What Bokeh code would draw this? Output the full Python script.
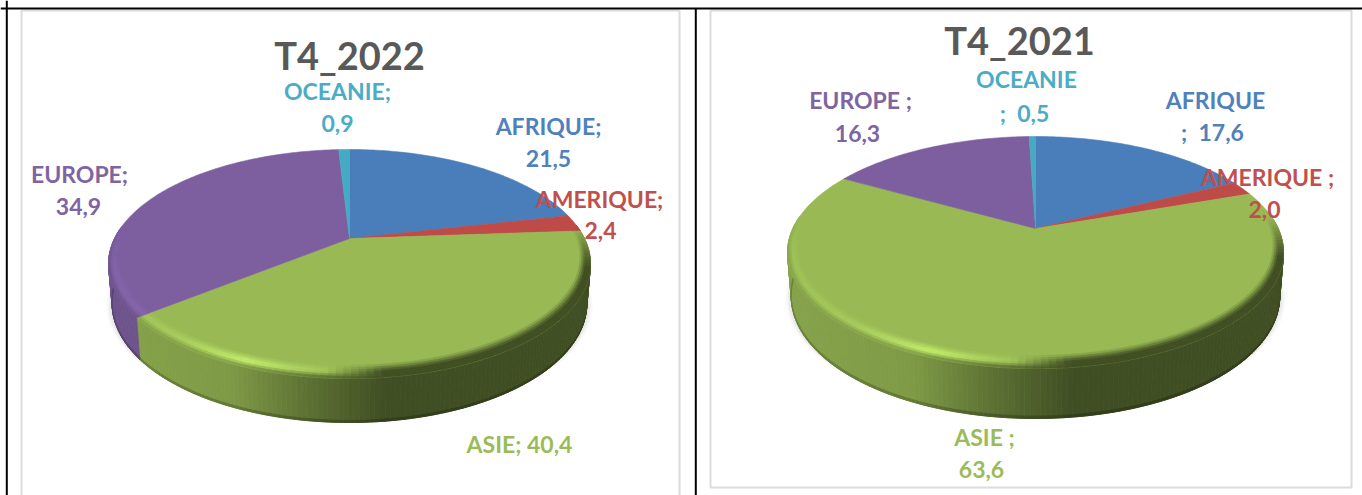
import numpy as np
from bokeh.plotting import figure
from bokeh.models import ColumnDataSource, Range1d
from bokeh.core.properties import value
from bokeh.embed import file_html
from bokeh.resources import INLINE

# ---- data ----
regions = ["AFRIQUE", "AMERIQUE", "ASIE", "EUROPE", "OCEANIE"]
values_2022 = [21.5, 2.4, 40.4, 34.9, 0.9]
values_2021 = [17.6, 2.0, 63.6, 16.3, 0.5]
title_2022 = "T4_2022"
title_2021 = "T4_2021"
face_colors = ["#4a7ebb", "#be4b48", "#98b954", "#7d5fa0", "#46aac5"]
text_colors = ["#4f81bd", "#c0504d", "#9bbb59", "#8064a2", "#4bacc6"]

# ---- layout (pixels) ----
W, H = 1362, 495
geom_2022 = dict(cx=349, apex=238, top=149, bottom=378, a=241, d_side=38, d_front=44)
geom_2021 = dict(cx=1035, apex=228, top=136, bottom=368, a=248, d_side=42, d_front=50)
FONT = value("Lato")
LABEL_SIZE = "23px"
TITLE_SIZE = "38px"
LABEL_SHIFT = -9
TITLE_SHIFT = -16

labels_2022 = [
    ("AFRIQUE;", 0, 548, 134), ("21,5", 0, 548, 167),
    ("AMERIQUE;", 1, 599, 207), ("2,4", 1, 600, 239),
    ("ASIE; 40,4", 2, 519, 452),
    ("EUROPE;", 3, 79, 182), ("34,9", 3, 78, 215),
    ("OCEANIE;", 4, 337, 99), ("0,9", 4, 337, 132),
]
labels_2021 = [
    ("AFRIQUE", 0, 1215, 108), (";\u00a0\u00a017,6", 0, 1212, 140),
    ("AMERIQUE ;", 1, 1267, 185), ("2,0", 1, 1264, 218),
    ("ASIE ;", 2, 984, 445), ("63,6", 2, 981, 478),
    ("EUROPE ;", 3, 860, 108), ("16,3", 3, 857, 142),
    ("OCEANIE", 4, 1026, 87), (";\u00a0\u00a00,5", 4, 1024, 121),
]
titles = [(title_2022, 349, 70), (title_2021, 1019, 55)]


def rgb(c):
    return np.array([int(c[i:i + 2], 16) for i in (1, 3, 5)], float)


def hexc(v):
    v = np.clip(np.round(v), 0, 255).astype(int)
    return "#%02x%02x%02x" % tuple(v)


def rim(g, th, r=1.0):
    """Perspective projection of a pie-angle (clockwise from 12 o'clock)."""
    up, down = g["apex"] - g["top"], g["bottom"] - g["apex"]
    k = (down - up) / (down + up)
    b = up * (1 + k)
    a = g["a"] * np.sqrt(1 - k * k)
    u, v = r * np.sin(th), -r * np.cos(th)
    den = 1 - k * v
    return g["cx"] + a * u / den, g["apex"] + b * v / den


def floor(g, th):
    x, y = rim(g, th)
    v = np.maximum(-np.cos(th), 0)
    return g["cx"] + (x - g["cx"]) * 0.985, y + g["d_side"] + (g["d_front"] - g["d_side"]) * v


def wall_colors(g, th, face):
    t = (rim(g, th)[0] - g["cx"]) / g["a"]
    f = np.interp(t, [-1, -.5, -.2, .15, 1], [0, .1, .55, 1, 1])
    return face * (0.88 + (0.42 - 0.88) * f), t


def lip_radius(th, base):
    """Lip is narrower at the sides of the disc than at its front."""
    return 1 - (1 - base) * (0.45 + 0.55 * max(-np.cos(th), 0))


def draw_pie(p, g, vals):
    vals = np.array(vals, float)
    edges = np.concatenate([[0], np.cumsum(vals)]) / vals.sum() * 2 * np.pi
    xs, ys, cols = [], [], []

    def add(qx, qy, c):
        xs.append(list(qx)); ys.append(list(qy)); cols.append(c)

    # soft shadow
    ring = np.linspace(0, 2 * np.pi, 160)
    fx, fy = floor(g, ring)
    sx, sy = [], []
    for grow in [15, 12, 9.5, 7.5, 5.5, 4, 2.5, 1]:
        sx.append(list(g["cx"] + (fx - g["cx"]) * (1 + grow * 0.4 / g["a"])))
        sy.append(list(fy + grow * (0.35 - np.cos(ring) * -0.65)))
    p.patches(sx, sy, fill_color="#808080", fill_alpha=0.035, line_color=None)

    # side wall
    step = np.radians(1.0)
    for i in range(len(vals)):
        face = rgb(face_colors[i])
        n = max(int((edges[i + 1] - edges[i]) / step), 1)
        th = np.linspace(edges[i], edges[i + 1], n + 1)
        for a0, a1 in zip(th[:-1], th[1:]):
            m = (a0 + a1) / 2
            if -np.cos(m) < -0.12:
                continue
            c, _ = wall_colors(g, m, face)
            x0, y0 = rim(g, a0); x1, y1 = rim(g, a1)
            X0, Y0 = floor(g, a0); X1, Y1 = floor(g, a1)
            add([x0, x1, X1, X0], [y0, y1, Y1, Y0], hexc(c))
            add([X0 + (x0 - X0) * .05, X1 + (x1 - X1) * .05, X1, X0],
                [Y0 + (y0 - Y0) * .05, Y1 + (y1 - Y1) * .05, Y1, Y0], hexc(c * 0.78))

    # flat top faces
    tops = []
    for i in range(len(vals)):
        th = np.linspace(edges[i], edges[i + 1], max(int((edges[i + 1] - edges[i]) / step), 2) + 1)
        x, y = rim(g, th)
        tops.append((list(np.r_[g["cx"], x]), list(np.r_[g["apex"], y]), face_colors[i]))

    src = ColumnDataSource(dict(xs=xs, ys=ys, c=cols))
    p.patches("xs", "ys", source=src, fill_color="c", line_color="c", line_width=0.8)
    p.patches([t[0] for t in tops], [t[1] for t in tops], fill_color=[t[2] for t in tops],
              line_color=[t[2] for t in tops], line_width=0.6)

    # bevelled lip of the top face: face -> peak -> wall
    bx, by, bc = [], [], []
    radii = np.linspace(0.925, 1.0, 7)
    to_peak = [.2, .5, .8, 1, 1, 1]
    to_wall = [0, 0, 0, .1, .45, .85]
    for i in range(len(vals)):
        face = rgb(face_colors[i])
        n = max(int((edges[i + 1] - edges[i]) / np.radians(1.5)), 1)
        th = np.linspace(edges[i], edges[i + 1], n + 1)
        for a0, a1 in zip(th[:-1], th[1:]):
            m = (a0 + a1) / 2
            fade = np.clip((-np.cos(m) + 0.1) / 0.35, 0, 1)
            if fade <= 0:
                continue
            wall, t = wall_colors(g, m, face)
            gain = np.interp(t, [-1, -.75, -.45, -.1, .15], [1.06, 1.12, 1.32, 1.08, .42])
            peak = face * gain if t < .15 else wall
            for j in range(6):
                col = face + (peak - face) * to_peak[j]
                col = col + (wall - col) * to_wall[j]
                col = face + (col - face) * fade
                x00, y00 = rim(g, a0, lip_radius(a0, radii[j])); x01, y01 = rim(g, a1, lip_radius(a1, radii[j]))
                x11, y11 = rim(g, a1, lip_radius(a1, radii[j + 1])); x10, y10 = rim(g, a0, lip_radius(a0, radii[j + 1]))
                bx.append([x00, x01, x11, x10]); by.append([y00, y01, y11, y10]); bc.append(hexc(col))
    src2 = ColumnDataSource(dict(xs=bx, ys=by, c=bc))
    p.patches("xs", "ys", source=src2, fill_color="c", line_color="c", line_width=0.7)


p = figure(width=W, height=H, x_range=Range1d(0, W), y_range=Range1d(H, 0),
           output_backend="svg", toolbar_location=None, min_border=0,
           background_fill_color="white", border_fill_color="white", outline_line_color=None,
           styles={"position": "absolute", "left": "0px", "top": "0px"})
p.xaxis.visible = False
p.yaxis.visible = False
p.grid.visible = False

# grey chart frames
FR = "#dcdcdc"
p.line([21, 21], [10, H], line_color=FR, line_width=2)
p.line([21, 679], [10, 10], line_color=FR, line_width=2)
p.line([679, 679], [10, H], line_color=FR, line_width=2)
p.line([710, 710, 1351, 1351, 710], [10, 487, 487, 10, 10], line_color=FR, line_width=2)

draw_pie(p, geom_2022, values_2022)
draw_pie(p, geom_2021, values_2021)

# black table rules
p.line([0, W], [8, 8], line_color="black", line_width=2)
p.line([6.3, 6.3], [0, H], line_color="black", line_width=2)
p.line([695.3, 695.3], [8, H], line_color="black", line_width=2)

for txt, x, y in titles:
    p.text([x], [y], text=[txt], y_offset=TITLE_SHIFT, text_font=FONT, text_font_size=TITLE_SIZE,
           text_font_style="bold", text_color="#595959", text_align="center", text_baseline="alphabetic")

for table in (labels_2022, labels_2021):
    p.text([l[2] for l in table], [l[3] for l in table], text=[l[0] for l in table], y_offset=LABEL_SHIFT,
           text_color=[text_colors[l[1]] for l in table], text_font=FONT,
           text_font_size=LABEL_SIZE, text_font_style="bold",
           text_align="center", text_baseline="alphabetic")

open("out.html", "w").write(file_html(p, INLINE))
